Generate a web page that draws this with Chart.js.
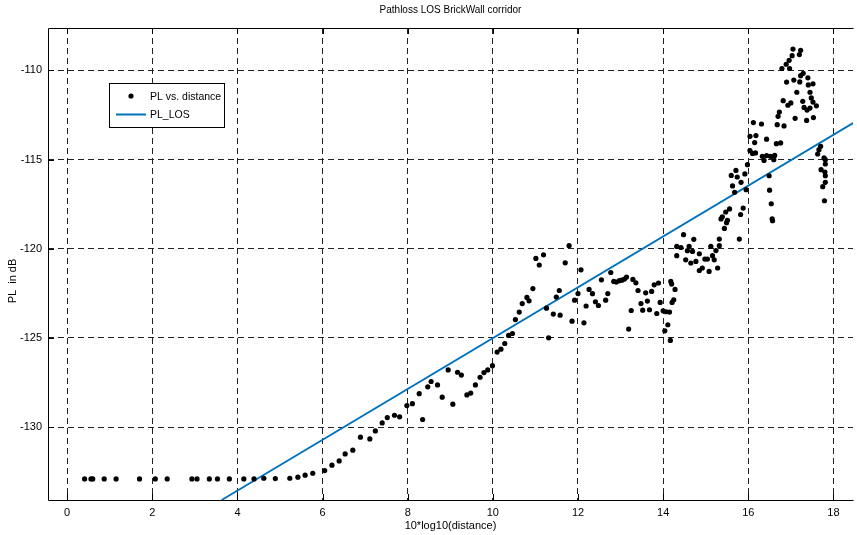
<!DOCTYPE html>
<html lang="en">

<head>
    <meta charset="UTF-8">
    <title>Pathloss LOS BrickWall corridor</title>
    <script src="https://cdn.jsdelivr.net/npm/chart.js"></script>
    <style>
        html, body { margin: 0; padding: 0; background: #fff; }
        #wrap { width: 857px; height: 535px; }
    </style>
</head>

<body>
    <div id="wrap"><canvas id="plChart" width="857" height="535"></canvas></div>

    <script>
        // measured points: x = 10*log10(distance), y = path loss (dB)
        const distance = [
            0.41, 0.56, 0.60, 0.87, 1.15, 1.70, 2.07, 2.35, 2.93, 3.05, 3.34, 3.53, 3.81, 4.15, 4.39, 4.62,
            4.89, 5.23, 5.42, 5.59, 5.77, 6.05, 6.22, 6.39, 6.53, 6.71, 6.89, 7.11, 7.24, 7.40, 7.52, 7.69,
            7.81, 7.98, 8.11, 8.27, 8.35, 8.47, 8.55, 8.70, 8.81, 8.95, 9.06, 9.17, 9.26, 9.39, 9.48, 9.59,
            9.70, 9.79, 9.88, 9.99, 10.10, 10.19, 10.28, 10.37, 10.46, 10.53, 10.62, 10.69, 10.80, 10.85, 10.94, 11.01,
            11.09, 11.19, 11.26, 11.31, 11.42, 11.49, 11.56, 11.58, 11.70, 11.79, 11.86, 11.92, 12.00, 12.07, 12.14, 12.19,
            12.26, 12.34, 12.41, 12.48, 12.55, 12.65, 12.70, 12.77, 12.84, 12.90, 12.97, 13.03, 13.09, 13.14, 13.19, 13.25,
            13.29, 13.36, 13.41, 13.48, 13.52, 13.59, 13.63, 13.68, 13.73, 13.79, 13.85, 13.89, 13.93, 14.00, 14.04, 14.07,
            14.11, 14.15, 14.17, 14.18, 14.20, 14.21, 14.25, 14.28, 14.32, 14.42, 14.61, 14.57, 14.69, 15.12, 15.24, 15.32,
            14.85, 14.32, 14.53, 14.65, 14.77, 14.98, 15.04, 15.16, 15.20, 14.92, 14.85, 15.08, 15.28, 14.48, 14.72, 15.32,
            15.79, 15.56, 15.47, 15.39, 15.36, 15.51, 15.49, 15.44, 15.88, 15.82, 15.71, 15.92, 15.60, 15.74, 15.83, 15.63,
            15.95, 15.68, 15.98, 16.12, 16.31, 16.04, 16.18, 16.43, 16.15, 16.66, 16.76, 16.04, 16.10, 16.17, 16.33, 16.43,
            16.37, 16.52, 16.62, 16.60, 16.49, 16.50, 16.54, 16.56, 16.57, 17.05, 17.23, 17.03, 17.20, 16.96, 16.89, 16.79,
            16.97, 17.29, 17.23, 17.07, 17.40, 16.90, 17.21, 17.52, 17.41, 17.14, 17.45, 17.48, 16.82, 17.00, 16.93, 17.28,
            17.52, 17.60, 17.31, 17.38, 17.45, 16.73, 16.70, 17.10, 17.37, 17.53, 16.68, 16.84, 17.70, 17.66, 17.63, 17.78,
            17.81, 17.81, 17.71, 17.80, 17.81, 17.81, 17.75, 17.79
        ];
        const pathloss = [
            -132.90, -132.90, -132.90, -132.90, -132.90, -132.90, -132.90, -132.90, -132.90, -132.90, -132.90, -132.90, -132.90, -132.90, -132.90, -132.86,
            -132.88, -132.86, -132.80, -132.69, -132.58, -132.43, -132.13, -131.89, -131.50, -131.29, -130.56, -130.66, -130.21, -129.76, -129.46, -129.33,
            -129.42, -128.79, -128.68, -128.12, -129.57, -127.74, -127.44, -127.63, -128.32, -126.79, -128.71, -126.92, -127.08, -128.19, -128.09, -127.63,
            -127.20, -126.94, -126.79, -126.55, -125.79, -125.63, -125.31, -124.86, -124.75, -123.97, -123.55, -123.07, -122.73, -122.92, -122.23, -120.54,
            -120.91, -120.34, -123.33, -124.99, -123.66, -122.71, -122.34, -123.72, -120.79, -119.83, -124.06, -122.88, -122.51, -121.18, -124.15, -123.21,
            -122.28, -122.52, -122.97, -123.18, -121.74, -122.88, -122.51, -121.33, -121.83, -121.87, -121.79, -121.76, -121.70, -121.59, -124.50, -123.46,
            -121.72, -121.91, -122.34, -123.07, -123.44, -122.47, -122.93, -123.42, -122.39, -122.02, -123.63, -121.92, -123.01, -123.48, -124.60, -123.53,
            -124.26, -123.55, -125.14, -121.83, -121.98, -123.01, -122.86, -122.28, -119.87, -119.93, -119.87, -120.11, -120.15, -119.87, -120.10, -119.83,
            -120.28, -120.39, -120.62, -120.80, -120.71, -120.58, -120.58, -120.39, -120.62, -121.08, -121.22, -121.27, -121.08, -119.21, -119.47, -119.46,
            -119.46, -117.77, -117.94, -118.21, -118.33, -118.41, -118.54, -118.86, -117.72, -118.08, -115.61, -115.81, -115.89, -115.98, -116.28, -116.48,
            -116.69, -116.84, -115.29, -112.93, -113.01, -113.70, -113.66, -113.86, -114.05, -114.11, -114.07, -114.50, -114.66, -114.63, -114.82, -114.78,
            -115.05, -114.82, -114.77, -115.01, -115.91, -116.72, -117.48, -118.32, -118.43, -108.81, -108.88, -109.18, -109.12, -109.44, -109.66, -109.90,
            -109.90, -110.17, -110.30, -110.55, -110.42, -110.66, -110.65, -110.76, -110.82, -111.23, -111.23, -111.55, -111.70, -111.83, -111.96, -111.74,
            -111.78, -111.99, -112.08, -112.23, -112.12, -112.34, -112.58, -112.69, -112.81, -112.65, -113.05, -113.12, -114.26, -114.45, -114.69, -114.91,
            -115.01, -115.25, -115.57, -115.70, -115.91, -116.28, -116.52, -117.31
        ];

        // fitted LOS line, read at its two ends
        const losDistance = [3.63, 18.48];
        const losPL = [-134.08, -112.93];

        const xTicks = [0, 2, 4, 6, 8, 10, 12, 14, 16, 18];
        const yTicks = [-130, -125, -120, -115, -110];
        const yLabel = 'PL  in dB';

        const FONT = "'Liberation Sans', Arial, sans-serif";
        const LOS_BLUE = '#0072bd';

        const scatterPts = distance.map((d, i) => ({ x: d, y: pathloss[i] }));
        const losPts = losDistance.map((d, i) => ({ x: d, y: losPL[i] }));

        // box, inner ticks, y label and the boxed legend inside the axes
        const framePlugin = {
            id: 'frame',
            afterDatasetsDraw(chart) {
                const { ctx, chartArea: a, scales } = chart;
                ctx.save();
                ctx.strokeStyle = '#000';
                ctx.lineWidth = 1;
                ctx.setLineDash([]);
                ctx.beginPath();
                ctx.moveTo(a.left + 0.5, a.top + 0.5);
                ctx.lineTo(a.right + 0.5, a.top + 0.5);
                ctx.moveTo(a.left + 0.5, a.top + 0.5);
                ctx.lineTo(a.left + 0.5, a.bottom + 0.5);
                ctx.lineTo(a.right + 0.5, a.bottom + 0.5);
                ctx.stroke();

                ctx.beginPath();
                xTicks.forEach(v => {
                    const px = Math.round(scales.x.getPixelForValue(v)) + 0.5;
                    ctx.moveTo(px, a.bottom); ctx.lineTo(px, a.bottom - 6);
                    ctx.moveTo(px, a.top); ctx.lineTo(px, a.top + 6);
                });
                yTicks.forEach(v => {
                    const py = Math.round(scales.y.getPixelForValue(v)) + 0.5;
                    ctx.moveTo(a.left, py); ctx.lineTo(a.left + 6, py);
                });
                ctx.stroke();

                // y label (matlab puts it a bit lower than the axes centre)
                ctx.save();
                ctx.translate(13, 281);
                ctx.rotate(-Math.PI / 2);
                ctx.font = '11px ' + FONT;
                ctx.fillStyle = '#000';
                ctx.textAlign = 'center';
                ctx.textBaseline = 'middle';
                ctx.fillText(yLabel, 0, 0);
                ctx.restore();

                // legend
                const lx = 109, ly = 83, lw = 115, lh = 44;
                ctx.fillStyle = '#fff';
                ctx.fillRect(lx, ly, lw, lh);
                ctx.strokeRect(lx + 0.5, ly + 0.5, lw, lh);

                ctx.fillStyle = '#000';
                ctx.beginPath();
                ctx.arc(131, 96, 2.6, 0, Math.PI * 2);
                ctx.fill();

                ctx.strokeStyle = LOS_BLUE;
                ctx.lineWidth = 2;
                ctx.beginPath();
                ctx.moveTo(116, 114.5);
                ctx.lineTo(146, 114.5);
                ctx.stroke();

                ctx.font = '10.5px ' + FONT;
                ctx.fillStyle = '#000';
                ctx.textBaseline = 'middle';
                ctx.textAlign = 'left';
                ctx.fillText(chart.data.datasets[0].label, 150, 97);
                ctx.fillText(chart.data.datasets[1].label, 150, 115);
                ctx.restore();
            }
        };

        document.addEventListener("DOMContentLoaded", () => {
            const ctx = document.getElementById('plChart').getContext('2d');
            new Chart(ctx, {
                type: 'scatter',
                data: {
                    datasets: [{
                        label: 'PL vs. distance',
                        data: scatterPts,
                        pointRadius: 2.6,
                        pointBackgroundColor: '#000',
                        pointBorderWidth: 0,
                        showLine: false
                    }, {
                        label: 'PL_LOS',
                        data: losPts,
                        showLine: true,
                        borderColor: LOS_BLUE,
                        borderWidth: 1.8,
                        pointRadius: 0,
                        fill: false
                    }]
                },
                options: {
                    responsive: false,
                    animation: false,
                    layout: { padding: { left: 0, right: 1, top: 0, bottom: 0 } },
                    plugins: {
                        legend: { display: false },
                        tooltip: { enabled: false },
                        title: {
                            display: true,
                            fullSize: false,
                            text: 'Pathloss LOS BrickWall corridor',
                            color: '#000',
                            font: { family: FONT, size: 10, weight: 'normal' },
                            padding: { top: 4, bottom: 12 }
                        }
                    },
                    scales: {
                        x: {
                            type: 'linear',
                            min: -0.45,
                            max: 18.46,
                            afterBuildTicks: s => { s.ticks = xTicks.map(v => ({ value: v })); },
                            afterFit: s => { s.height = 35; },
                            grid: { color: '#222', lineWidth: 1, drawTicks: false },
                            border: { display: false, dash: [6, 4] },
                            ticks: { color: '#000', padding: 6, font: { family: FONT, size: 11 } },
                            title: {
                                display: true,
                                text: '10*log10(distance)',
                                color: '#000',
                                font: { family: FONT, size: 11 },
                                padding: { top: 0, bottom: 2 }
                            }
                        },
                        y: {
                            type: 'linear',
                            min: -134.08,
                            max: -107.63,
                            afterBuildTicks: s => { s.ticks = yTicks.map(v => ({ value: v })); },
                            afterFit: s => { s.width = 48; },
                            grid: { color: '#222', lineWidth: 1, drawTicks: false },
                            border: { display: false, dash: [6, 4] },
                            ticks: { color: '#000', padding: 6, font: { family: FONT, size: 11 } }
                        }
                    }
                },
                plugins: [framePlugin]
            });
        });
    </script>
</body>

</html>
